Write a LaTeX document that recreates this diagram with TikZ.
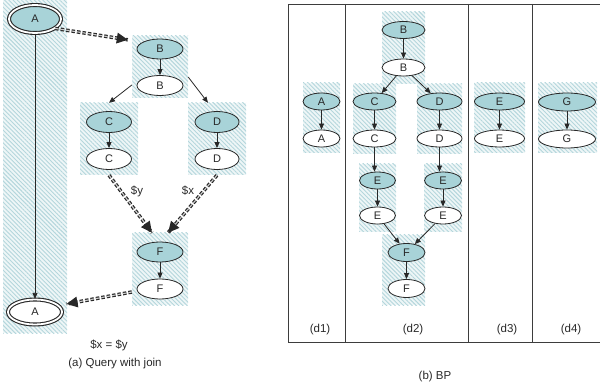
\documentclass[tikz,border=0pt]{standalone}
\usepackage{fontspec}
\setmainfont{Liberation Sans}
\usetikzlibrary{shapes.geometric,arrows.meta,patterns.meta,decorations.markings}
\definecolor{tealfill}{RGB}{168,211,216}
\definecolor{hatchbg}{RGB}{238,246,247}
\definecolor{hatchline}{RGB}{180,214,220}
\definecolor{ink}{RGB}{40,40,40}
\tikzset{
  hbox/.style={rectangle, inner sep=0pt, draw=none, fill=hatchbg,
    postaction={pattern={Lines[angle=-45,distance=3pt,line width=0.9pt]}, pattern color=hatchline}},
  qn/.style={ellipse, draw=ink, line width=0.8pt, inner sep=0pt,
    font=\fontsize{11}{13}\selectfont, text=ink},
  tq/.style={qn, fill=tealfill},
  wq/.style={qn, fill=white},
  dbl/.style={line width=1.1pt, double=white, double distance=1.8pt},
  arr/.style={draw=ink, line width=0.8pt, -{Triangle[length=6pt,width=5pt]}},
  dasharr/.style={draw=ink, line width=1.2pt, double=white!80!black, double distance=1.1pt,
    dash pattern=on 3.5pt off 2pt, postaction={decorate},
    decoration={markings, mark=at position 1 with
      {\fill[ink] (0pt,0pt) -- (-11pt,5.5pt) -- (-11pt,-5.5pt) -- cycle;}}},
  lbl/.style={font=\fontsize{11.5}{14}\selectfont, text=ink, inner sep=0pt},
  frame/.style={draw=ink!90, line width=0.9pt}
}
\begin{document}
\begin{tikzpicture}[x=1pt,y=-1pt]
\useasboundingbox (0,0) rectangle (600,390);

% ---------- (a) query with join ----------
\node[hbox, minimum width=64pt, minimum height=333pt] (colA) at (35,166.5) {};
\node[hbox, minimum width=56pt, minimum height=62pt] (Bbox) at (160,67) {};
\node[hbox, minimum width=58pt, minimum height=72pt] (Cbox) at (109,139) {};
\node[hbox, minimum width=58pt, minimum height=72pt] (Dbox) at (217,139) {};
\node[hbox, minimum width=56pt, minimum height=72pt] (Fbox) at (160,269) {};

\node[tq, dbl, minimum width=52pt, minimum height=28pt] (A1) at (35,19) {A};
\node[wq, dbl, minimum width=54pt, minimum height=25pt] (A2) at (35,312) {A};
\node[tq, minimum width=46pt, minimum height=20pt] (B1) at (160,49) {B};
\node[wq, minimum width=46pt, minimum height=20pt] (B2) at (160,85.5) {B};
\node[tq, minimum width=45pt, minimum height=21pt] (C1) at (109,122) {C};
\node[wq, minimum width=45pt, minimum height=21pt] (C2) at (109,159) {C};
\node[tq, minimum width=44pt, minimum height=21pt] (D1) at (217,122) {D};
\node[wq, minimum width=44pt, minimum height=21pt] (D2) at (217,159) {D};
\node[tq, minimum width=46pt, minimum height=20pt] (F1) at (160,252) {F};
\node[wq, minimum width=46pt, minimum height=20pt] (F2) at (160,289) {F};

\draw[arr] (A1) -- (A2);
\draw[arr] (B1) -- (B2);
\draw[arr] (C1) -- (C2);
\draw[arr] (D1) -- (D2);
\draw[arr] (F1) -- (F2);
\draw[arr] ([yshift=-18pt]Bbox.west) -- (Cbox.north);
\draw[arr] ([yshift=-10pt]Bbox.east) -- ([xshift=-9pt]Dbox.north);

\draw[dasharr] (A1.-25) -- ([xshift=-4pt,yshift=-4pt]Bbox.north west);
\draw[dasharr] (Cbox.south) -- ([xshift=-8pt]Fbox.north);
\draw[dasharr] (Dbox.south) -- ([xshift=8pt]Fbox.north);
\draw[dasharr] ([yshift=-23pt]Fbox.west) -- ([xshift=4pt,yshift=8pt]A2.east);

\node[lbl] (ly) at (137,191) {\$y};
\node[lbl] (lx) at (188,191) {\$x};
\node[lbl] (eq) at (109,345) {\$x = \$y};
\node[lbl] (capa) at (115,364) {(a) Query with join};

% ---------- (b) BP ----------
\draw[frame] (601,4) -- (288,4) -- (288,342) -- (601,342);
\draw[frame] (345,4) -- (345,342);
\draw[frame] (468,4) -- (468,342);
\draw[frame] (532,4) -- (532,342);

% d1
\node[hbox, minimum width=37pt, minimum height=70pt] (bA) at (321.5,118) {};
\node[tq, minimum width=37pt, minimum height=17pt] (pA1) at (321.5,101.5) {A};
\node[wq, minimum width=37pt, minimum height=17pt] (pA2) at (321.5,138.5) {A};
\draw[arr] (pA1) -- (pA2);

% d2
\node[hbox, minimum width=43pt, minimum height=72pt] (bB) at (403.5,48) {};
\node[hbox, minimum width=43pt, minimum height=70pt] (bC) at (374.5,119) {};
\node[hbox, minimum width=45pt, minimum height=70pt] (bD) at (439.5,119) {};
\node[hbox, minimum width=37pt, minimum height=68pt] (bEl) at (377.5,198) {};
\node[hbox, minimum width=38pt, minimum height=68pt] (bEr) at (443,198) {};
\node[hbox, minimum width=43pt, minimum height=70pt] (bF) at (403.5,270) {};

\node[tq, minimum width=43pt, minimum height=17pt] (pB1) at (403.5,30) {B};
\node[wq, minimum width=43pt, minimum height=17pt] (pB2) at (403.5,67.5) {B};
\node[tq, minimum width=43pt, minimum height=17pt] (pC1) at (374.5,101.5) {C};
\node[wq, minimum width=43pt, minimum height=17pt] (pC2) at (374.5,138.5) {C};
\node[tq, minimum width=45pt, minimum height=17pt] (pD1) at (439.5,101.5) {D};
\node[wq, minimum width=45pt, minimum height=17pt] (pD2) at (439.5,138.5) {D};
\node[tq, minimum width=36pt, minimum height=17pt] (pE1l) at (377.5,180.5) {E};
\node[wq, minimum width=36pt, minimum height=17pt] (pE2l) at (377.5,215.5) {E};
\node[tq, minimum width=37pt, minimum height=17pt] (pE1r) at (443,180.5) {E};
\node[wq, minimum width=37pt, minimum height=17pt] (pE2r) at (443,215.5) {E};
\node[tq, minimum width=37pt, minimum height=18pt] (pF1) at (406.5,252.5) {F};
\node[wq, minimum width=37pt, minimum height=18pt] (pF2) at (406.5,288.5) {F};

\draw[arr] (pB1) -- (pB2);
\draw[arr] (pB2) -- (pC1);
\draw[arr] (pB2) -- (pD1);
\draw[arr] (pC1) -- (pC2);
\draw[arr] (pD1) -- (pD2);
\draw[arr] (pC2) -- (pC2 |- pE1l.north);
\draw[arr] (pD2) -- (pD2 |- pE1r.north);
\draw[arr] (pE1l) -- (pE2l);
\draw[arr] (pE1r) -- (pE2r);
\draw[arr] (pE2l) -- (pF1);
\draw[arr] (pE2r) -- (pF1);
\draw[arr] (pF1) -- (pF2);

% d3
\node[hbox, minimum width=51pt, minimum height=70pt] (bE3) at (499.5,118) {};
\node[tq, minimum width=50pt, minimum height=17pt] (qE1) at (499.5,101.5) {E};
\node[wq, minimum width=50pt, minimum height=17pt] (qE2) at (499.5,138.5) {E};
\draw[arr] (qE1) -- (qE2);

% d4
\node[hbox, minimum width=59pt, minimum height=70pt] (bG) at (567.5,118) {};
\node[tq, minimum width=57pt, minimum height=18pt] (qG1) at (567,102) {G};
\node[wq, minimum width=57pt, minimum height=18pt] (qG2) at (567,139) {G};
\draw[arr] (qG1) -- (qG2);

\node[lbl] (d1) at (320,330) {(d1)};
\node[lbl] (d2) at (413,330) {(d2)};
\node[lbl] (d3) at (507,330) {(d3)};
\node[lbl] (d4) at (571,330) {(d4)};
\node[lbl] (capb) at (435,377) {(b) BP};
\end{tikzpicture}
\end{document}
